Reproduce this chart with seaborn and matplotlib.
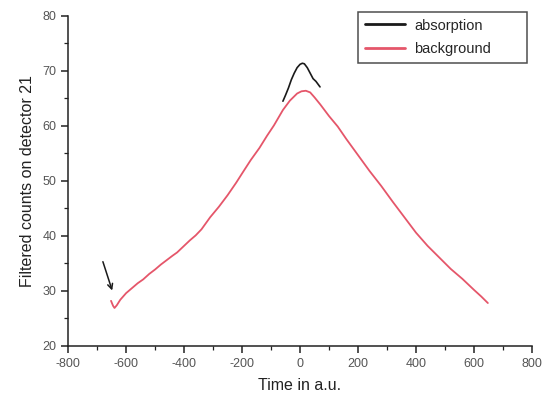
import matplotlib
matplotlib.use("Agg")
import matplotlib.pyplot as plt
from matplotlib.ticker import MultipleLocator
import seaborn as sns
import pandas as pd

# Background trace (filtered counts vs time)
bg_time = [-652, -645, -640, -632, -620, -600, -580, -560, -541, -520, -500,
           -480, -460, -440, -424, -400, -380, -360, -340, -310, -280, -250,
           -220, -197, -170, -140, -114, -90, -59, -35, -10, 5, 20, 35, 50,
           70, 100, 130, 160, 200, 240, 280, 320, 360, 400, 440, 480, 520,
           560, 600, 625, 648]
bg_counts = [28.2, 27.3, 26.9, 27.4, 28.4, 29.6, 30.5, 31.4, 32.1, 33.1, 33.9,
             34.8, 35.6, 36.4, 37.0, 38.2, 39.2, 40.1, 41.2, 43.4, 45.3, 47.4,
             49.7, 51.6, 53.8, 56.0, 58.2, 60.1, 62.9, 64.6, 65.9, 66.3, 66.4,
             66.1, 65.2, 63.9, 61.8, 59.9, 57.6, 54.7, 51.8, 49.1, 46.2, 43.4,
             40.6, 38.2, 36.1, 34.0, 32.2, 30.2, 29.0, 27.8]

# Absorption trace near the peak
ab_time = [-59, -50, -40, -30, -20, -10, 0, 8, 15, 25, 35, 45, 55, 62, 69]
ab_counts = [64.5, 65.6, 66.9, 68.4, 69.6, 70.6, 71.2, 71.4, 71.3, 70.6, 69.6,
             68.6, 68.1, 67.6, 67.1]

x_ticks = [-800, -600, -400, -200, 0, 200, 400, 600, 800]
y_ticks = [20, 30, 40, 50, 60, 70, 80]

sns.set_theme(style="ticks")
plt.rcParams["font.family"] = ["Liberation Sans", "DejaVu Sans"]
plt.rcParams["axes.unicode_minus"] = False

fig = plt.figure(figsize=(5.45, 3.99), dpi=100)
ax = fig.add_axes([0.125, 0.133, 0.851, 0.827])

bg = pd.DataFrame({"t": bg_time, "c": bg_counts})
ab = pd.DataFrame({"t": ab_time, "c": ab_counts})

sns.lineplot(data=ab, x="t", y="c", ax=ax, color="#1a1a1a", lw=1.2,
             label="absorption", sort=False)
sns.lineplot(data=bg, x="t", y="c", ax=ax, color="#e5566a", lw=1.3,
             label="background", sort=False)

# Arrow marking the dip at the start of the scan
ax.annotate("", xy=(-645, 29.6), xytext=(-683, 35.8),
            arrowprops=dict(arrowstyle="->", color="#1a1a1a", lw=1.1,
                            mutation_scale=9))

ax.set_xlim(-800, 800)
ax.set_ylim(20, 80)
ax.set_xticks(x_ticks)
ax.set_yticks(y_ticks)
ax.xaxis.set_minor_locator(MultipleLocator(100))
ax.yaxis.set_minor_locator(MultipleLocator(5))
ax.tick_params(which="major", direction="out", length=5, width=1.1,
               labelsize=9, labelcolor="#555555", color="#222222")
ax.tick_params(which="minor", direction="out", length=3, width=0.9,
               color="#222222")
for side in ("top", "right"):
    ax.spines[side].set_visible(False)
for side in ("left", "bottom"):
    ax.spines[side].set_linewidth(1.1)
    ax.spines[side].set_color("#222222")

ax.set_xlabel("Time in a.u.", fontsize=11.5, color="#222222", labelpad=6)
ax.set_ylabel("Filtered counts on detector 21", fontsize=11.5,
              color="#222222", labelpad=5)

leg = ax.legend(loc="upper left", bbox_to_anchor=(0.625, 0.0, 0.364, 1.012),
                mode="expand", borderaxespad=0, fontsize=10.5, frameon=True,
                fancybox=False, handlelength=2.8, borderpad=0.45,
                labelspacing=0.65, handletextpad=0.6)
leg.get_frame().set_edgecolor("#222222")
leg.get_frame().set_linewidth(1.1)
for line in leg.get_lines():
    line.set_linewidth(2.0)

fig.savefig("out.png", dpi=100, facecolor="white")
